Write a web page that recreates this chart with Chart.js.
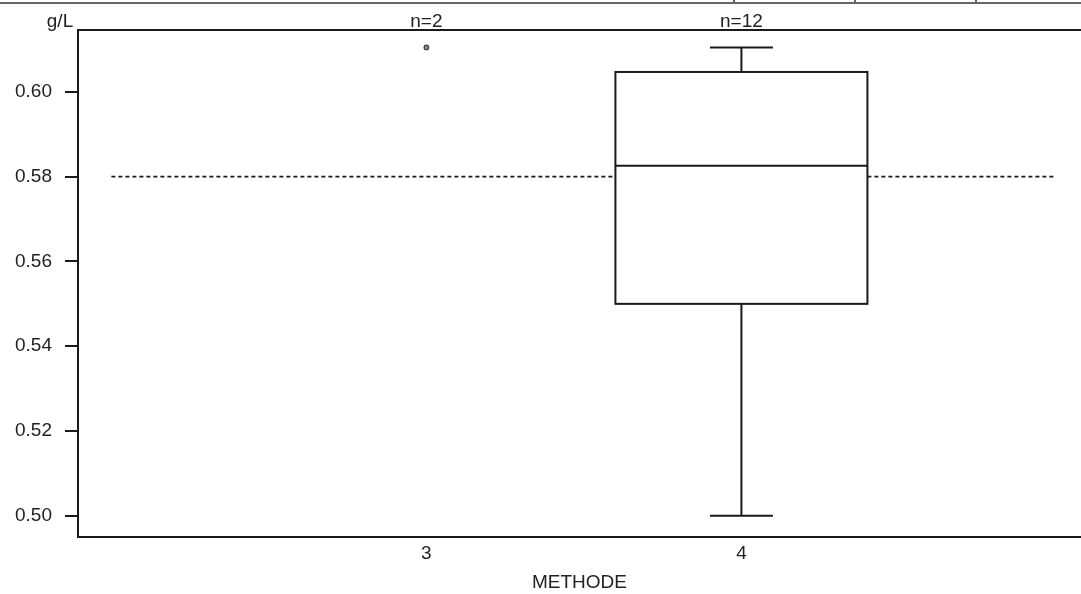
<!DOCTYPE html>
<html>
<head>
<meta charset="utf-8">
<script src="https://cdn.jsdelivr.net/npm/chart.js@4/dist/chart.umd.min.js"></script>
<style>
  html, body { margin:0; padding:0; background:#fff; }
  #wrap { width:1081px; height:594px; }
</style>
</head>
<body>
<div id="wrap"><canvas id="boxChart"></canvas></div>
<script>
// data
const categories = [3, 4];
const counts     = [2, 12];
const boxMin     = [null, 0.500];
const boxQ1      = [null, 0.550];
const boxMedian  = [null, 0.5826];
const boxQ3      = [null, 0.6047];
const boxMax     = [null, 0.6105];
const outliers   = [[0.6105], []];
const refValue   = 0.58;
const refFrom    = 2;
const refTo      = 5;
const yTicks     = [0.50, 0.52, 0.54, 0.56, 0.58, 0.60];

const INK = '#1a1a1a';
const FONT = { family: 'Liberation Sans, Arial, sans-serif', size: 19 };

// box, whiskers and the top labels
const boxPlugin = {
  id: 'boxes',
  afterDatasetsDraw(chart){
    const { ctx, chartArea, scales:{ x, y } } = chart;
    ctx.save();
    ctx.strokeStyle = INK;
    ctx.lineWidth = 2;
    categories.forEach((c, i)=>{
      if(boxQ1[i] == null) return;
      const cx = x.getPixelForValue(c);
      const l = x.getPixelForValue(c - 0.4), r = x.getPixelForValue(c + 0.4);
      const cl = x.getPixelForValue(c - 0.1), cr = x.getPixelForValue(c + 0.1);
      const q1 = y.getPixelForValue(boxQ1[i]), q3 = y.getPixelForValue(boxQ3[i]);
      const md = y.getPixelForValue(boxMedian[i]);
      const lo = y.getPixelForValue(boxMin[i]), hi = y.getPixelForValue(boxMax[i]);
      ctx.fillStyle = '#fff';
      ctx.fillRect(l, q3, r - l, q1 - q3);
      ctx.strokeRect(l, q3, r - l, q1 - q3);
      ctx.beginPath();
      ctx.moveTo(l, md); ctx.lineTo(r, md);
      ctx.moveTo(cx, q3); ctx.lineTo(cx, hi);
      ctx.moveTo(cl, hi); ctx.lineTo(cr, hi);
      ctx.moveTo(cx, q1); ctx.lineTo(cx, lo);
      ctx.moveTo(cl, lo); ctx.lineTo(cr, lo);
      ctx.stroke();
    });
    // top frame line
    ctx.beginPath();
    ctx.moveTo(chartArea.left, chartArea.top);
    ctx.lineTo(chartArea.right, chartArea.top);
    ctx.stroke();
    // cropped rule at the very top
    ctx.strokeStyle = '#666';
    ctx.beginPath();
    ctx.moveTo(0, 3); ctx.lineTo(chart.width, 3);
    [734, 855, 976].forEach(px=>{ ctx.moveTo(px, 0); ctx.lineTo(px, 3); });
    ctx.stroke();
    // n= labels and unit
    ctx.fillStyle = '#222';
    ctx.font = `${FONT.size}px ${FONT.family}`;
    ctx.textAlign = 'center';
    ctx.textBaseline = 'alphabetic';
    categories.forEach((c, i)=>{
      ctx.fillText('n=' + counts[i], x.getPixelForValue(c), 27);
    });
    ctx.fillText('g/L', 60, 27);
    ctx.restore();
  }
};

new Chart(document.getElementById('boxChart').getContext('2d'), {
  type: 'scatter',
  data: {
    datasets: [
      {
        type: 'line',
        data: [{ x: refFrom, y: refValue }, { x: refTo, y: refValue }],
        borderColor: INK, borderWidth: 1.6, borderDash: [4, 3],
        pointRadius: 0, fill: false
      },
      {
        data: outliers.flatMap((vals, i)=> vals.map(v=>({ x: categories[i], y: v }))),
        pointStyle: 'circle', pointRadius: 2.2,
        borderColor: '#444', backgroundColor: '#999', borderWidth: 1.4
      }
    ]
  },
  options: {
    responsive: true, maintainAspectRatio: false, animation: false,
    layout: { autoPadding: false, padding: { top: 30, right: 0, left: 0, bottom: 0 } },
    plugins: { legend: { display: false }, tooltip: { enabled: false } },
    scales: {
      x: {
        type: 'linear', min: 1.894, max: 5.078,
        afterBuildTicks: s => { s.ticks = categories.map(v=>({ value: v })); },
        afterFit: s => { s.height = 57; },
        grid: { display: false, drawTicks: false },
        border: { display: true, color: INK, width: 2 },
        ticks: { color: '#222', font: FONT, padding: 5, callback: v => String(v) },
        title: { display: true, text: 'METHODE', color: '#222',
                 font: { ...FONT, lineHeight: 1 }, padding: { top: 0, bottom: 2 } }
      },
      y: {
        min: 0.495, max: 0.6146,
        afterBuildTicks: s => { s.ticks = yTicks.map(v=>({ value: v })); },
        afterFit: s => { s.width = 78; },
        grid: { drawOnChartArea: false, drawTicks: true, tickLength: 13, color: INK, lineWidth: 2 },
        border: { display: true, color: INK, width: 2 },
        ticks: { color: '#222', font: FONT, padding: 13, callback: v => v.toFixed(2) }
      }
    }
  },
  plugins: [boxPlugin]
});
</script>
</body>
</html>
